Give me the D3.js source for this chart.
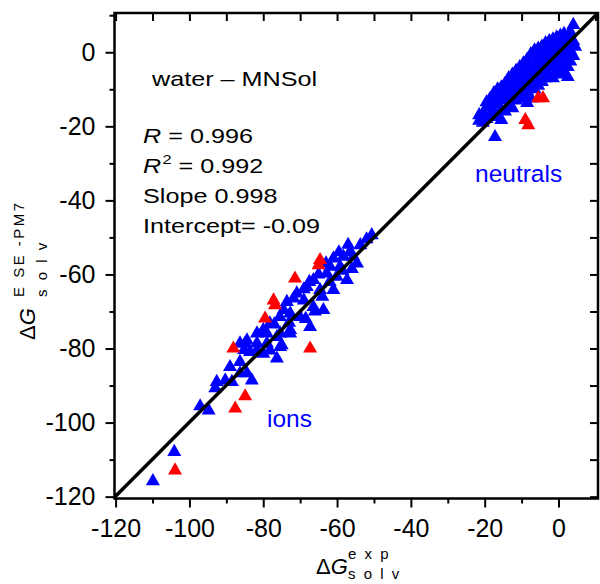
<!DOCTYPE html>
<html>
<head>
<meta charset="utf-8">
<script src="https://cdn.jsdelivr.net/npm/d3@7"></script>
<style>
  html, body { margin: 0; padding: 0; background: #fff; }
  svg { display: block; }
  text { font-family: "Liberation Sans", Arial, sans-serif; }
</style>
</head>
<body>
<svg id="chart" width="600" height="584"></svg>
<script>
// ---------- data ----------
const majorTicks = [-120, -100, -80, -60, -40, -20, 0];
const minorTicks = [-110, -90, -70, -50, -30, -10, 10];

const blueNeutrals = [
  [-21.5,-18.5],[-21.5,-17],[-20.5,-19],[-20.5,-16.5],[-19.5,-18],[-19.5,-15],[-19.5,-13.5],
  [-18.5,-17],[-18.5,-14.5],[-18.5,-12.5],[-17.5,-16],[-17.5,-13],[-17.5,-11],[-17.2,-22.9],
  [-16.5,-17.5],[-16.5,-14],[-16.5,-11.5],[-16.5,-10],[-15.5,-18.3],[-15.5,-15.5],[-15.5,-12.5],[-15.5,-9.5],
  [-14.5,-16],[-14.5,-13],[-14.5,-10.5],[-14.5,-8.5],[-13.5,-15],[-13.5,-12],[-13.5,-9.5],[-13.5,-7],
  [-12.5,-15.1],[-12.5,-11],[-12.5,-8.5],[-12.5,-6],[-11.5,-13],[-11.5,-10],[-11.5,-7.5],[-11.5,-5],
  [-10.5,-12.5],[-10.5,-9],[-10.5,-6.5],[-10.5,-4],[-9.5,-11.5],[-9.5,-8.5],[-9.5,-5.5],[-9.5,-3],
  [-8.5,-13.7],[-8.5,-10.5],[-8.5,-7],[-8.5,-4.5],[-8.5,-2],[-7.5,-12.5],[-7.5,-9],[-7.5,-6],[-7.5,-3.5],[-7.5,-0.5],
  [-6.5,-10],[-6.5,-7.5],[-6.5,-5],[-6.5,-2.5],[-6.5,0.5],[-5.5,-9],[-5.5,-6.5],[-5.5,-4],[-5.5,-1.5],[-5.5,1],
  [-4.5,-8],[-4.5,-5.5],[-4.5,-3],[-4.5,-0.5],[-4.5,1.5],[-3.5,-7],[-3.5,-4.5],[-3.5,-2],[-3.5,0],[-3.5,2.5],
  [-2.5,-6.5],[-2.5,-4],[-2.5,-1.5],[-2.5,1],[-2.5,3],[-1.5,-7],[-1.5,-3],[-1.5,-0.5],[-1.5,2],[-1.5,3.5],
  [-0.5,-5],[-0.5,-2.5],[-0.5,0],[-0.5,2.5],[-0.5,4],[0.5,-6],[0.5,-3.5],[0.5,-1],[0.5,1.5],[0.5,4.5],
  [1.5,-5.5],[1.5,-2],[1.5,0.5],[1.5,3],[1.5,5],[2.5,-6.7],[2.5,-4],[2.5,-1],[2.5,2],[2.5,4],
  [3.2,-2.5],[3.2,0.5],[3.2,5.5],[4,7.4],[4,3],[4,-1],[4.5,1.5]
];
const redNeutrals = [[-5.5,-12.4],[-4.2,-12.4],[-9,-18.3],[-8.2,-19.7]];

const blueIons = [
  [-109.9,-115.8],[-104.1,-107.9],[-97.1,-95.6],[-94.8,-96.7],[-93,-90.7],[-92.6,-89],[-90.3,-88.6],
  [-88.5,-89],[-89,-85],[-86.3,-83.6],[-86.3,-86.7],[-84.4,-86.7],[-83.1,-88.6],[-84.9,-78.6],
  [-83.6,-80.9],[-81.7,-78.6],[-80,-81.4],[-76.3,-82.7],[-75,-79.1],[-79,-75.9],[-75.4,-75.9],[-72.7,-75.9],
  [-50.6,-49.4],[-53.7,-52.1],[-56.5,-53.9],[-55.6,-55.2],[-58.3,-55.2],[-61,-55.7],[-61.9,-57.9],
  [-62.8,-59.7],[-59.2,-57.9],[-60.1,-60.6],[-54.6,-57],[-66.4,-61.5],[-68.2,-63.4],[-70.9,-65.1],
  [-71.8,-66.5],[-73.6,-67.4],[-74.5,-69.6],[-72.7,-70.5],[-70,-71.5],[-75.5,-71.5],[-78.2,-73.2],
  [-80,-75],[-81.7,-75.9],[-84.4,-77.8],[-86.3,-78.6],[-85.2,-80.4],[-63.7,-69.6],[-67.3,-74.2],
  [-66.4,-68.8],[-64.6,-64.2],[-61,-64.2],[-57.3,-61.5],[-72.7,-75],[-76.3,-76.9],[-79,-78.6],
  [-75.4,-79.6],[-78.2,-80.5],[-81.7,-80.5],[-52,-50.5],[-57,-52],[-59.5,-54],[-63,-57],[-65,-60],
  [-67.5,-62],[-69,-64],[-62,-62],[-58.5,-59],[-56,-58.5],[-64,-66],[-66,-70],[-68.5,-72],[-69,-67],
  [-77,-73.5],[-73,-73]
];
const redIons = [
  [-103.9,-112.9],[-87.6,-96.2],[-84.9,-92.9],[-88.1,-80],[-64.6,-56.1],[-65,-57.5],
  [-71.4,-61.1],[-77.2,-67],[-76.8,-68.3],[-79.5,-71.9],[-67.3,-80]
];
const fitSlope = 0.998;
const fitIntercept = -0.09;
const statsLines = ["water \u2013 MNSol", "R = 0.996", "R2 = 0.992", "Slope 0.998", "Intercept= -0.09"];

// ---------- layout ----------
const svg = d3.select("#chart");
const x = d3.scaleLinear().domain([-120.3, 10.7]).range([114.5, 598]);
const y = d3.scaleLinear().domain([-120.5, 10.6]).range([498.5, 13]);
const [x0, x1] = x.range();
const [y0, y1] = y.range();
const fmt = d => String(d);   // plain hyphen-minus as in the reference

svg.append("defs").append("clipPath").attr("id", "clip")
  .append("rect").attr("x", x0).attr("y", y1).attr("width", x1 - x0).attr("height", y0 - y1);

// markers
const tri = d3.symbol().type(d3.symbolTriangle).size(85);
const plot = svg.append("g").attr("clip-path", "url(#clip)");
function drawPts(data, color) {
  plot.selectAll(null).data(data).enter().append("path")
    .attr("d", tri)
    .attr("transform", d => `translate(${x(d[0])},${y(d[1])})`)
    .attr("fill", color);
}
drawPts(blueNeutrals, "#0000ff");
drawPts(blueIons, "#0000ff");
drawPts(redNeutrals, "#ff0000");
drawPts(redIons, "#ff0000");

// fit line
const lx = x.domain();
plot.append("line")
  .attr("x1", x(lx[0])).attr("y1", y(fitSlope * lx[0] + fitIntercept))
  .attr("x2", x(lx[1])).attr("y2", y(fitSlope * lx[1] + fitIntercept))
  .attr("stroke", "#000").attr("stroke-width", 3.5);

// axes
function styleAxis(g) {
  g.select(".domain").remove();
  g.selectAll("line").attr("stroke", "#000").attr("stroke-width", 2);
  g.selectAll("text").attr("font-size", 25).attr("fill", "#000")
    .attr("font-family", "'Liberation Sans', Arial, sans-serif");
}
svg.append("g").attr("transform", `translate(0,${y0})`)
  .call(d3.axisBottom(x).tickValues(majorTicks).tickSize(9).tickPadding(11.5).tickFormat(fmt))
  .call(styleAxis);
svg.append("g").attr("transform", `translate(0,${y0})`)
  .call(d3.axisBottom(x).tickValues(minorTicks.filter(v => v < 10)).tickSize(5).tickFormat(""))
  .call(styleAxis);
svg.append("g").attr("transform", `translate(${x0},0)`)
  .call(d3.axisLeft(y).tickValues(majorTicks).tickSize(9).tickPadding(10).tickFormat(fmt))
  .call(styleAxis);
svg.append("g").attr("transform", `translate(${x0},0)`)
  .call(d3.axisLeft(y).tickValues(minorTicks).tickSize(5).tickFormat(""))
  .call(styleAxis);
svg.append("g").attr("transform", `translate(0,${y1})`)
  .call(d3.axisTop(x).tickValues(majorTicks.concat(minorTicks)).tickSize(-8).tickFormat(""))
  .call(styleAxis);
svg.append("g").attr("transform", `translate(${x1},0)`)
  .call(d3.axisRight(y).tickValues(majorTicks.concat(minorTicks.filter(v => v < 10))).tickSize(-8).tickFormat(""))
  .call(styleAxis);

// frame
svg.append("rect").attr("x", x0).attr("y", y1).attr("width", x1 - x0).attr("height", y0 - y1)
  .attr("fill", "none").attr("stroke", "#000").attr("stroke-width", 2.5);

// stats annotation (horizontally stretched text)
const ann = svg.append("g");
function annText(px, py) {
  return ann.append("text").attr("transform", `translate(${px},${py}) scale(1.26,1)`)
    .attr("font-size", 20).attr("fill", "#000");
}
annText(152, 86).text(statsLines[0]);
let t = annText(143, 143);
t.append("tspan").attr("font-style", "italic").text("R");
t.append("tspan").text(" = 0.996");
t = annText(143, 173);
t.append("tspan").attr("font-style", "italic").text("R");
t.append("tspan").attr("font-size", 13).attr("dy", -9).attr("dx", 1).text("2");
t.append("tspan").attr("dy", 9).text(" = 0.992");
annText(143, 203).text(statsLines[3]);
annText(143, 233).text(statsLines[4]);

// cluster labels
svg.append("text").attr("x", 475).attr("y", 181.5).attr("font-size", 24.5).attr("fill", "#0000ff").text("neutrals");
svg.append("text").attr("x", 267).attr("y", 427).attr("font-size", 24.5).attr("fill", "#0000ff").text("ions");

// x axis title
const xt = svg.append("g");
const xa = xt.append("text").attr("x", 316).attr("y", 574).attr("font-size", 22);
xa.append("tspan").text("\u0394");
xa.append("tspan").attr("font-style", "italic").text("G");
xt.append("text").attr("x", 348).attr("y", 559).attr("font-size", 15).attr("letter-spacing", 2).text("e x p");
xt.append("text").attr("x", 348).attr("y", 579).attr("font-size", 15).attr("letter-spacing", 2).text("s o l v");

// y axis title (rotated)
const yt = svg.append("g").attr("transform", "rotate(-90)");
const ya = yt.append("text").attr("x", -340).attr("y", 35).attr("font-size", 22);
ya.append("tspan").text("\u0394");
ya.append("tspan").attr("font-style", "italic").text("G");
yt.append("text").attr("x", -297).attr("y", 24).attr("font-size", 15).attr("letter-spacing", 2.5).text("E SE -PM7");
yt.append("text").attr("x", -297).attr("y", 47).attr("font-size", 15).attr("letter-spacing", 2.5).text("s o l v");
</script>
</body>
</html>
